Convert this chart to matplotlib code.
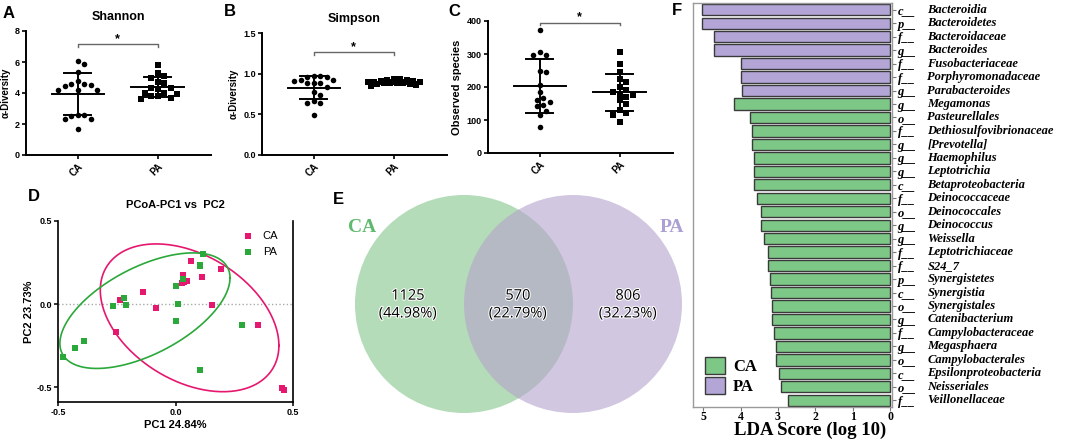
import numpy as np
import matplotlib
matplotlib.use("Agg")
import matplotlib.pyplot as plt
import matplotlib.patheffects as pe
from matplotlib.patches import Circle, Patch
from matplotlib.transforms import blended_transform_factory

# ---- data ----
groups = ["CA", "PA"]

shannon_ca = [6.05, 5.9, 5.35, 4.8, 4.6, 4.55, 4.5, 4.45, 4.2, 4.2, 4.2, 2.55, 2.55, 2.5, 2.35, 2.35, 1.65]
shannon_pa = [5.8, 5.3, 5.1, 4.95, 4.7, 4.65, 4.35, 4.3, 4.25, 4.0, 4.0, 3.95, 3.8, 3.8, 3.65, 3.6]

simpson_ca = [0.97, 0.97, 0.96, 0.96, 0.92, 0.92, 0.91, 0.89, 0.88, 0.88, 0.84, 0.78, 0.74, 0.66, 0.64, 0.64, 0.49]
simpson_pa = [0.94, 0.93, 0.92, 0.92, 0.91, 0.91, 0.90, 0.90, 0.90, 0.89, 0.89, 0.88, 0.88, 0.87, 0.87, 0.86, 0.85]

observed_ca = [372, 305, 298, 298, 247, 245, 207, 185, 167, 162, 154, 146, 141, 128, 114, 79]
observed_pa = [305, 270, 245, 225, 215, 200, 190, 185, 180, 175, 170, 160, 150, 130, 120, 115, 95]

pc1_ca = [0.065, 0.193, 0.033, 0.026, 0.050, 0.035, 0.113, -0.138, -0.237, -0.085, 0.156, -0.255, 0.353, 0.454, 0.461]
pc2_ca = [0.262, 0.208, 0.172, 0.126, 0.140, 0.132, 0.162, 0.070, 0.022, -0.024, -0.004, -0.170, -0.124, -0.504, -0.518]
pc1_pa = [0.115, 0.106, 0.106, 0.030, 0.004, -0.220, -0.265, -0.209, 0.011, 0.004, 0.282, -0.389, -0.426, -0.479, 0.104]
pc2_pa = [0.302, 0.238, 0.226, 0.148, 0.108, 0.038, -0.012, -0.004, 0.000, -0.104, -0.126, -0.224, -0.264, -0.320, -0.396]
# ellipse: centre x, centre y, x half-range, y half-range, phase (deg)
ellipse_ca = [0.06, -0.083, 0.38, 0.445, 112]
ellipse_pa = [-0.13, -0.04, 0.362, 0.348, 55.5]

venn_counts = [1125, 570, 806]   # CA only, shared, PA only

lda_taxa = [("c", "Bacteroidia"), ("p", "Bacteroidetes"), ("f", "Bacteroidaceae"), ("g", "Bacteroides"),
            ("f", "Fusobacteriaceae"), ("f", "Porphyromonadaceae"), ("g", "Parabacteroides"),
            ("g", "Megamonas"), ("o", "Pasteurellales"), ("f", "Dethiosulfovibrionaceae"),
            ("g", "[Prevotella]"), ("g", "Haemophilus"), ("g", "Leptotrichia"), ("c", "Betaproteobacteria"),
            ("f", "Deinococcaceae"), ("o", "Deinococcales"), ("g", "Deinococcus"), ("g", "Weissella"),
            ("f", "Leptotrichiaceae"), ("f", "S24_7"), ("p", "Synergistetes"), ("c", "Synergistia"),
            ("o", "Synergistales"), ("g", "Catenibacterium"), ("f", "Campylobacteraceae"),
            ("g", "Megasphaera"), ("o", "Campylobacterales"), ("c", "Epsilonproteobacteria"),
            ("o", "Neisseriales"), ("f", "Veillonellaceae")]
lda_scores = [5.03, 5.03, 4.72, 4.72, 3.99, 3.99, 3.97, 4.17, 3.74, 3.70, 3.70, 3.65, 3.64, 3.63,
              3.55, 3.44, 3.44, 3.37, 3.27, 3.26, 3.21, 3.18, 3.16, 3.15, 3.10, 3.05, 3.04, 2.98, 2.91, 2.72]
lda_groups = ["PA"] * 7 + ["CA"] * 23

W, H = 1084, 441
SANS = "Liberation Sans"
SERIF = "Liberation Serif"
PINK = "#e5176f"
GREEN = "#2aa839"
BAR_COL = {"CA": "#7dc887", "PA": "#b3a6d6"}

plt.rcParams["font.family"] = SANS
fig = plt.figure(figsize=(W / 100, H / 100), dpi=100)


def rect(l, t, r, b):
    return [l / W, 1 - b / H, (r - l) / W, (b - t) / H]


def letter(x, y, s):
    fig.text(x / W, 1 - y / H, s, fontsize=12, fontweight="bold", va="baseline", ha="left")


def swarm(ax, vals, xpos, size, maxw=30):
    # simple beeswarm in pixel space, spread capped at +-maxw px
    pts = ax.transData.transform(np.column_stack([np.full(len(vals), float(xpos)), vals]))
    ys = pts[:, 1]
    steps = [0.0]
    k = 1
    while k * size * 0.5 <= maxw:
        steps += [k * size * 0.5, -k * size * 0.5]
        k += 1
    placed, offs = [], np.zeros(len(vals))
    for i in np.argsort(-np.asarray(vals)):
        best, best_d = 0.0, -1
        for dx in steps:
            d = min([np.hypot(dx - px, ys[i] - py) for px, py in placed], default=1e9)
            if d >= size:
                best = dx
                break
            if d > best_d:
                best, best_d = dx, d
        placed.append((best, ys[i]))
        offs[i] = best
    unit = ax.transData.transform([(1, 0)])[0, 0] - ax.transData.transform([(0, 0)])[0, 0]
    return offs / unit


def dot_panel(box, ca, pa, ylim, yticks, ylabel, title, sig_y, tick_h, star_y, ylsize):
    ax = fig.add_axes(rect(*box))
    ax.set_xlim(-0.65, 1.67)
    ax.set_ylim(ylim)
    for i, (vals, marker) in enumerate([(ca, "o"), (pa, "s")]):
        vals = np.asarray(vals, dtype=float)
        off = swarm(ax, vals, i, 6.5)
        ax.scatter(i + off, vals, marker=marker, s=16, c="black", linewidths=0, zorder=3, clip_on=False)
        m, sd = vals.mean(), vals.std(ddof=1)
        ax.plot([i - 0.33, i + 0.33], [m, m], color="black", lw=1.4, zorder=4)
        ax.plot([i, i], [m - sd, m + sd], color="black", lw=1.4, zorder=4)
        for yv in (m - sd, m + sd):
            ax.plot([i - 0.17, i + 0.17], [yv, yv], color="black", lw=1.4, zorder=4)
    ax.plot([0, 0, 1, 1], [sig_y - tick_h, sig_y, sig_y, sig_y - tick_h], color="#666666", lw=1.0, clip_on=False)
    ax.text(0.5, star_y, "*", ha="center", va="center", fontsize=9, fontweight="bold", clip_on=False)
    ax.set_yticks(yticks)
    ax.set_xticks([0, 1])
    ax.set_xticklabels(groups, rotation=45, ha="right", rotation_mode="anchor", fontsize=7, fontweight="bold")
    for lab in ax.get_yticklabels():
        lab.set_fontsize(6.5)
        lab.set_fontweight("bold")
    ax.set_ylabel(ylabel, fontsize=ylsize, fontweight="bold", labelpad=3)
    if title:
        ax.set_title(title, fontsize=9, fontweight="bold", pad=8)
    for s in ("top", "right"):
        ax.spines[s].set_visible(False)
    for s in ("left", "bottom"):
        ax.spines[s].set_linewidth(1.4)
    ax.tick_params(width=1.2, length=3, pad=1.5)
    return ax


dot_panel((26, 31, 211, 155), shannon_ca, shannon_pa, (0, 8), [0, 2, 4, 6, 8],
          "\u03b1-Diversity", "Shannon", 7.15, 0.2, 7.5, 7)
axb = dot_panel((262, 33, 447, 155), simpson_ca, simpson_pa, (0, 1.5), [0.0, 0.5, 1.0, 1.5],
                "\u03b1-Diversity", "Simpson", 1.27, 0.04, 1.33, 7)
axb.set_yticklabels(["0.0", "0.5", "1.0", "1.5"], fontsize=6.5, fontweight="bold")
dot_panel((488, 21, 673, 153), observed_ca, observed_pa, (0, 400), [0, 100, 200, 300, 400],
          "Observed species", None, 395, 8, 413, 8)

# ---- D: PCoA ----
axd = fig.add_axes(rect(58, 221, 293, 402))
axd.set_xlim(-0.5, 0.5)
axd.set_ylim(-0.59, 0.5)
axd.axhline(0, color="#aaaaaa", ls=":", lw=1.0, zorder=0)
t = np.linspace(0, 2 * np.pi, 300)
for (cx, cy, a, b, ph), col in [(ellipse_ca, PINK), (ellipse_pa, GREEN)]:
    axd.plot(cx + a * np.cos(t), cy + b * np.cos(t - np.radians(ph)), color=col, lw=1.2)
axd.scatter(pc1_ca, pc2_ca, marker="s", s=18, color=PINK, linewidths=0, label="CA", zorder=3, clip_on=False)
axd.scatter(pc1_pa, pc2_pa, marker="s", s=18, color=GREEN, linewidths=0, label="PA", zorder=3, clip_on=False)
axd.legend(loc="upper right", frameon=False, fontsize=8, handletextpad=0.3, borderaxespad=0.3,
           labelspacing=0.6, bbox_to_anchor=(0.97, 0.99))
axd.set_xticks([-0.5, 0.0, 0.5])
axd.set_yticks([-0.5, 0.0, 0.5])
axd.set_xticklabels(["-0.5", "0.0", "0.5"], fontsize=6.5, fontweight="bold")
axd.set_yticklabels(["-0.5", "0.0", "0.5"], fontsize=6.5, fontweight="bold")
axd.set_xlabel("PC1 24.84%", fontsize=8, fontweight="bold", labelpad=2)
axd.set_ylabel("PC2 23.73%", fontsize=8, fontweight="bold", labelpad=2)
axd.set_title("PCoA-PC1 vs  PC2", fontsize=8, fontweight="bold", pad=9)
axd.spines["top"].set_visible(False)
for s in ("left", "bottom", "right"):
    axd.spines[s].set_linewidth(1.2)
axd.tick_params(width=1.1, length=3, pad=1.5)

# ---- E: Venn ----
axe = fig.add_axes(rect(330, 190, 700, 420))
axe.set_xlim(330, 700)
axe.set_ylim(420, 190)
axe.axis("off")
axe.add_patch(Circle((464, 304), 109, facecolor="#82c58a", alpha=0.6, lw=0))
axe.add_patch(Circle((573, 304), 109, facecolor="#b4a3cd", alpha=0.6, lw=0))
total = sum(venn_counts)
halo = [pe.withStroke(linewidth=1.5, foreground="white")]
for xc, n in zip([408, 518, 628], venn_counts):
    axe.text(xc, 305, f"{n}\n({100 * n / total:.2f}%)", ha="center", va="center", fontsize=10.5,
             family="Open Sans", linespacing=1.25, path_effects=halo)
axe.text(362, 228, "CA", color="#5fb96e", fontsize=14, fontweight="bold", family=SERIF, ha="center", va="center")
axe.text(672, 228, "PA", color="#aba0d3", fontsize=14, fontweight="bold", family=SERIF, ha="center", va="center")

# ---- F: LDA ----
axf = fig.add_axes(rect(693, 3, 892, 407))
ypos = np.arange(len(lda_scores))
axf.barh(ypos, lda_scores, height=0.84, color=[BAR_COL[g] for g in lda_groups],
         edgecolor="#3a3a3a", linewidth=1.0)
axf.set_xlim(5.27, -0.05)
axf.set_ylim(len(lda_scores) - 0.5, -0.5)
axf.yaxis.tick_right()
axf.set_yticks(ypos)
axf.set_yticklabels([p + "__" for p, _ in lda_taxa], fontsize=9, fontweight="bold", style="italic", family=SERIF)
trans = blended_transform_factory(axf.transAxes, axf.transData)
for yv, (_, name) in zip(ypos, lda_taxa):
    axf.text(1.178, yv, name, transform=trans, fontsize=9, fontweight="bold", style="italic",
             family=SERIF, va="center", ha="left")
axf.set_xticks([5, 4, 3, 2, 1, 0])
axf.set_xticklabels(["5", "4", "3", "2", "1", "0"], fontsize=8.5, fontweight="bold", family=SERIF)
axf.set_xlabel("LDA Score (log 10)", fontsize=13.5, fontweight="bold", family=SERIF, labelpad=0)
axf.xaxis.set_label_coords(0.59, -0.037)
for s in axf.spines.values():
    s.set_color("#9a9a9a")
    s.set_linewidth(1.0)
axf.tick_params(axis="y", length=3, width=0.8, color="#777777", pad=1)
axf.tick_params(axis="x", length=3, width=0.8, color="#777777", pad=0)
axf.legend(handles=[Patch(facecolor=BAR_COL["CA"], edgecolor="#3a3a3a", label="CA"),
                    Patch(facecolor=BAR_COL["PA"], edgecolor="#3a3a3a", label="PA")],
           loc="lower left", frameon=False, prop={"family": SERIF, "weight": "bold", "size": 12},
           handlelength=1.2, handleheight=1.2, handletextpad=0.5, labelspacing=0.15,
           borderaxespad=0.3)

letter(3, 18, "A")
letter(224, 16, "B")
letter(448, 16, "C")
letter(28, 201, "D")
letter(333, 204, "E")
letter(672, 15, "F")

fig.savefig("out.png", dpi=100)
